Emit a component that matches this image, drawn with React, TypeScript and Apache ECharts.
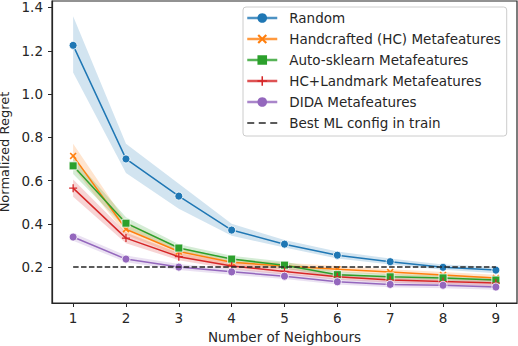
import React, { useEffect, useRef } from "react";
import * as echarts from "echarts";

const neighbours = [1, 2, 3, 4, 5, 6, 7, 8, 9];
const yTicks = [0.2, 0.4, 0.6, 0.8, 1.0, 1.2, 1.4];

const randomMean = [1.225, 0.7, 0.528, 0.371, 0.306, 0.255, 0.225, 0.199, 0.186];
const randomLow = [1.1, 0.635, 0.47, 0.345, 0.29, 0.24, 0.212, 0.188, 0.172];
const randomHigh = [1.36, 0.77, 0.585, 0.4, 0.325, 0.272, 0.24, 0.212, 0.2];

const hcMean = [0.714, 0.375, 0.272, 0.222, 0.205, 0.19, 0.177, 0.163, 0.15];
const hcLow = [0.66, 0.35, 0.25, 0.205, 0.19, 0.177, 0.163, 0.15, 0.136];
const hcHigh = [0.77, 0.41, 0.292, 0.238, 0.22, 0.205, 0.19, 0.177, 0.165];

const askMean = [0.668, 0.403, 0.288, 0.237, 0.209, 0.165, 0.155, 0.15, 0.14];
const askLow = [0.63, 0.38, 0.272, 0.222, 0.195, 0.15, 0.142, 0.138, 0.127];
const askHigh = [0.705, 0.43, 0.305, 0.252, 0.225, 0.18, 0.168, 0.162, 0.153];

const hclMean = [0.565, 0.334, 0.248, 0.205, 0.18, 0.155, 0.14, 0.133, 0.126];
const hclLow = [0.525, 0.31, 0.232, 0.19, 0.166, 0.142, 0.128, 0.12, 0.112];
const hclHigh = [0.605, 0.36, 0.265, 0.222, 0.195, 0.17, 0.154, 0.146, 0.14];

const didaMean = [0.339, 0.237, 0.2, 0.178, 0.158, 0.132, 0.12, 0.116, 0.108];
const didaLow = [0.322, 0.222, 0.186, 0.165, 0.145, 0.12, 0.107, 0.102, 0.095];
const didaHigh = [0.358, 0.254, 0.214, 0.192, 0.172, 0.146, 0.134, 0.13, 0.122];

const bestValue = [0.2, 0.2];
const bestX = [1, 9];

const names = [
  "Random",
  "Handcrafted (HC) Metafeatures",
  "Auto-sklearn Metafeatures",
  "HC+Landmark Metafeatures",
  "DIDA Metafeatures",
  "Best ML config in train",
];

const colors = ["#1f77b4", "#ff7f0e", "#2ca02c", "#d62728", "#9467bd"];

const X_PATH = "path://M0,1.6 L1.6,0 L5,3.4 L8.4,0 L10,1.6 L6.6,5 L10,8.4 L8.4,10 L5,6.6 L1.6,10 L0,8.4 L3.4,5 Z";
const PLUS_PATH = "path://M4.2,0 H5.8 V4.2 H10 V5.8 H5.8 V10 H4.2 V5.8 H0 V4.2 H4.2 Z";
const DASH_ICON =
  "path://M0,5.3 H7 V6.7 H0 Z M11.5,5.3 H18.5 V6.7 H11.5 Z M23,5.3 H30 V6.7 H23 Z M0,0 L0.01,0 L0,0.01 Z M30,12 L29.99,12 L30,11.99 Z";

const FONT = "DejaVu Sans";
const FS = 13.5;

function band(low: number[], high: number[], color: string) {
  return {
    type: "custom",
    silent: true,
    clip: true,
    z: 1,
    data: neighbours.map((x, i) => [x, low[i], high[i]]),
    encode: { x: 0, y: [1, 2] },
    renderItem: (params: any, api: any) => {
      if (params.dataIndex !== 0) return null;
      const top = neighbours.map((x, i) => api.coord([x, high[i]]));
      const bot = neighbours.map((x, i) => api.coord([x, low[i]])).reverse();
      return {
        type: "polygon",
        shape: { points: top.concat(bot) },
        style: { fill: color, opacity: 0.2 },
      };
    },
  };
}

function line(name: string, values: number[], color: string, symbol: string, size: number, border = true) {
  return {
    type: "line",
    name,
    data: neighbours.map((x, i) => [x, values[i]]),
    symbol,
    symbolSize: size,
    showSymbol: true,
    z: 3,
    lineStyle: { color, width: 1.5 },
    itemStyle: { color, borderColor: border ? "#ffffff" : color, borderWidth: border ? 0.8 : 0 },
  };
}

export default function App() {
  const ref = useRef<HTMLDivElement>(null);
  useEffect(() => {
    if (!ref.current) return;
    const chart = echarts.init(ref.current, undefined, { renderer: "svg" });
    chart.setOption({
      animation: false,
      backgroundColor: "#ffffff",
      textStyle: { fontFamily: FONT },
      grid: {
        left: 52,
        right: 1,
        top: 1,
        bottom: 43,
        outerBoundsMode: "none",
        containLabel: false,
        show: true,
        borderColor: "#262626",
        borderWidth: 1.2,
        backgroundColor: "transparent",
      },
      legend: {
        orient: "vertical",
        left: 243,
        top: 7,
        data: [
          names[0],
          names[1],
          names[2],
          names[3],
          names[4],
          { name: names[5], icon: DASH_ICON },
        ],
        padding: [4, 6, 6, 3],
        itemWidth: 30,
        itemHeight: 12,
        itemGap: 7,
        backgroundColor: "rgba(255,255,255,0.8)",
        borderColor: "#cccccc",
        borderWidth: 1,
        borderRadius: 3,
        lineStyle: { width: 2.5, opacity: 0.8, type: "solid" },
        itemStyle: { borderWidth: 0 },
        textStyle: {
          fontFamily: FONT,
          fontSize: FS,
          color: "#262626",
          lineHeight: 14,
          padding: [0, 0, 0, 7],
        },
      },
      xAxis: {
        type: "value",
        min: 0.6,
        max: 9.4,
        name: "Number of Neighbours",
        nameLocation: "middle",
        nameGap: 27,
        nameTextStyle: { fontFamily: FONT, fontSize: FS, color: "#262626" },
        splitLine: { show: false },
        axisLine: { show: true, lineStyle: { color: "#262626", width: 1.2 } },
        axisTick: {
          show: true,
          length: 4,
          lineStyle: { color: "#262626" },
          customValues: neighbours,
        },
        axisLabel: {
          customValues: neighbours,
          fontFamily: FONT,
          fontSize: FS,
          color: "#262626",
          margin: 8,
        },
      },
      yAxis: {
        type: "value",
        min: 0.034,
        max: 1.43,
        name: "Normalized Regret",
        nameLocation: "middle",
        nameGap: 29,
        nameTextStyle: { fontFamily: FONT, fontSize: 13, color: "#262626" },
        splitLine: { show: false },
        axisLine: { show: true, lineStyle: { color: "#262626", width: 1.2 } },
        axisTick: {
          show: true,
          length: 4,
          lineStyle: { color: "#262626" },
          customValues: yTicks,
        },
        axisLabel: {
          customValues: yTicks,
          fontFamily: FONT,
          fontSize: FS,
          color: "#262626",
          margin: 9,
          formatter: (v: number) => v.toFixed(1),
        },
      },
      series: [
        band(randomLow, randomHigh, colors[0]),
        band(hcLow, hcHigh, colors[1]),
        band(askLow, askHigh, colors[2]),
        band(hclLow, hclHigh, colors[3]),
        band(didaLow, didaHigh, colors[4]),
        line(names[0], randomMean, colors[0], "circle", 8),
        line(names[1], hcMean, colors[1], X_PATH, 7, false),
        line(names[2], askMean, colors[2], "rect", 8),
        line(names[3], hclMean, colors[3], PLUS_PATH, 8, false),
        line(names[4], didaMean, colors[4], "circle", 8),
        {
          type: "line",
          name: names[5],
          data: bestX.map((x, i) => [x, bestValue[i]]),
          symbol: "none",
          z: 4,
          lineStyle: { color: "#262626", width: 1.5, type: [5.5, 2.4] },
          itemStyle: { color: "#262626" },
        },
      ],
    });
    return () => chart.dispose();
  }, []);
  return (
    <div
      ref={ref}
      style={{ position: "absolute", left: 0, top: 0, width: 518, height: 346 }}
    />
  );
}
